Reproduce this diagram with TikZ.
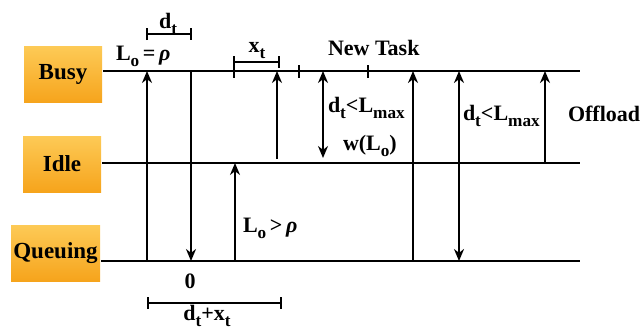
\documentclass[tikz,border=0pt]{standalone}
\usepackage{fontspec}
\setmainfont{Liberation Serif}
\usetikzlibrary{arrows.meta}

\definecolor{stateTop}{RGB}{253,202,86}
\definecolor{stateBot}{RGB}{246,164,28}

\newcommand{\lsub}[1]{\raisebox{-0.28em}{\fontsize{8.6}{10}\selectfont #1}}

\begin{document}
\begin{tikzpicture}[x=0.5pt, y=-0.5pt, line width=1pt,
  >={Stealth[length=6pt, width=5pt]},
  state/.style={rectangle, top color=stateTop, bottom color=stateBot,
    minimum height=28pt, inner sep=0pt, font=\fontsize{11.5}{13}\selectfont\bfseries},
  lbl/.style={inner sep=0pt, font=\fontsize{11}{13}\selectfont\bfseries},
  span/.style={{Bar[width=6pt]}-{Bar[width=6pt]}}]

  \useasboundingbox (0,0) rectangle (641,327);

  % State boxes
  \node[state, minimum width=39pt] (busy) at (63,74.5) {Busy};
  \node[state, minimum width=39pt] (idle) at (62,164) {Idle};
  \node[state, minimum width=44.5pt] (queue) at (55.5,253) {Queuing};

  % Time lines
  \coordinate (bR) at (580,71);
  \coordinate (iR) at (580,163);
  \coordinate (qR) at (580,261);
  \draw (busy.east |- bR) -- (bR);
  \draw (idle.east |- iR) -- (iR);
  \draw (queue.east |- qR) -- (qR);

  % Ticks on the busy line
  \foreach \x in {234,299,368}
    \draw (\x,65) -- (\x,78);

  % Transitions between the states
  \draw[->] (147,0 |- qR) -- (147,0 |- bR);
  \draw[->] (191,0 |- bR) -- (191,0 |- qR);
  \draw[->] (235,0 |- qR) -- (235,0 |- iR);
  \draw[->] (277,159) -- (277,0 |- bR);
  \draw[<->] (323,0 |- bR) -- (323,158);
  \draw[->] (413,0 |- qR) -- (413,0 |- bR);
  \draw[<->] (459,0 |- bR) -- (459,0 |- qR);
  \draw[->] (545,0 |- iR) -- (545,0 |- bR);

  % Intervals
  \draw[span] (146,34) -- (192,34);
  \draw[span] (233,62) -- (280,62);
  \draw[span] (147,303) -- (282,303);

  % Labels
  \node[lbl, anchor=base] (dt) at (168,28) {d\lsub{t}};
  \node[lbl, anchor=base west] (lorho) at (115,60) {L\lsub{o}\,=\,\textit{ρ}};
  \node[lbl, anchor=base] (xt) at (257,52) {x\lsub{t}};
  \node[lbl, anchor=base west] (newtask) at (327,55) {New Task};
  \node[lbl, anchor=base west] (lmaxa) at (327,112) {d\lsub{t}<L\lsub{max}};
  \node[lbl, anchor=base west] (wlo) at (342,150) {w(L\lsub{o})};
  \node[lbl, anchor=base west] (lmaxb) at (462,120) {d\lsub{t}<L\lsub{max}};
  \node[lbl, anchor=base west] (offload) at (567,121) {Offload};
  \node[lbl, anchor=base west] (logt) at (242,232) {L\lsub{o}\,>\,\textit{ρ}};
  \node[lbl, anchor=base] (zero) at (190,288) {0};
  \node[lbl, anchor=base] (dtxt) at (207,320) {d\lsub{t}+x\lsub{t}};

\end{tikzpicture}
\end{document}
